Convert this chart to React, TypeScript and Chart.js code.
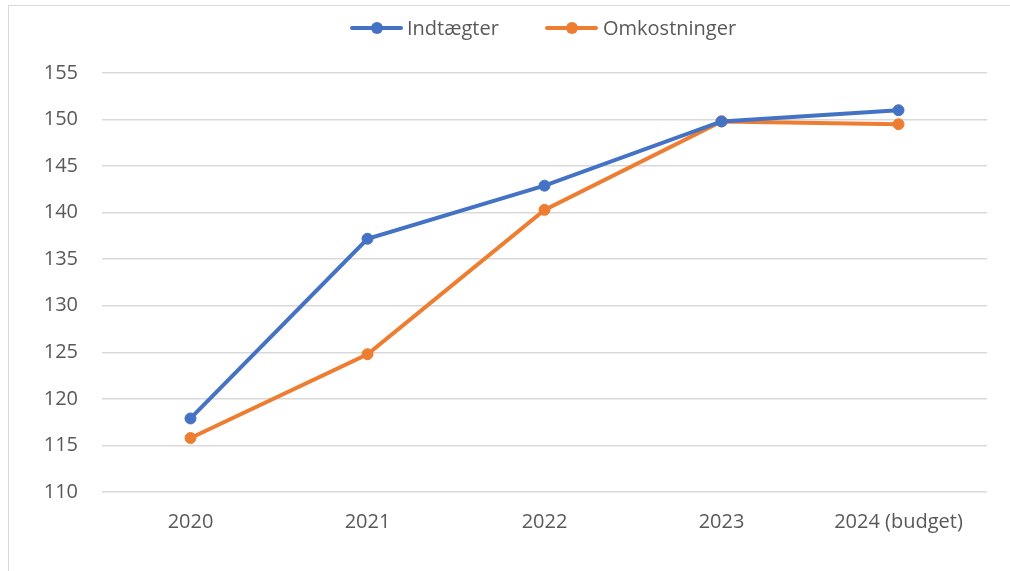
import React, { useEffect, useRef } from "react";
import { Chart, registerables } from "chart.js";

Chart.register(...registerables);

const categories = ["2020", "2021", "2022", "2023", "2024 (budget)"];
const indtaegter = [117.9, 137.2, 142.9, 149.8, 151.0];
const omkostninger = [115.8, 124.8, 140.3, 149.8, 149.5];
const seriesNames = ["Indtægter", "Omkostninger"];
const seriesColors = ["#4472C4", "#ED7D31"];
const yMin = 110;
const yMax = 155;
const yStep = 5;

const FONT = "'Open Sans', 'Noto Sans', sans-serif";
const TEXT = "#595959";

export default function App() {
  const ref = useRef<HTMLCanvasElement | null>(null);

  useEffect(() => {
    if (!ref.current) return;
    const values = [indtaegter, omkostninger];
    const chart = new Chart(ref.current, {
      type: "line",
      data: {
        labels: categories,
        datasets: seriesNames.map((name, i) => ({
          label: name,
          data: values[i],
          borderColor: seriesColors[i],
          backgroundColor: seriesColors[i],
          borderWidth: 4,
          pointRadius: 5.5,
          pointBorderWidth: 1,
          pointBackgroundColor: seriesColors[i],
          pointBorderColor: seriesColors[i],
          tension: 0,
          fill: false,
        })),
      },
      options: {
        animation: false,
        responsive: false,
        maintainAspectRatio: false,
        layout: { padding: { left: 0, right: 23, top: 73, bottom: 0 } },
        plugins: {
          legend: { display: false },
          tooltip: { enabled: false },
        },
        scales: {
          x: {
            offset: true,
            grid: { display: false, drawTicks: false },
            border: { display: false },
            ticks: {
              color: TEXT,
              font: { family: FONT, size: 20 },
              padding: 18,
              maxRotation: 0,
              autoSkip: false,
            },
            afterFit: (s: any) => {
              s.height = 79;
            },
          },
          y: {
            min: yMin,
            max: yMax,
            grid: { color: "#d9d9d9", lineWidth: 1.5, drawTicks: false },
            border: { display: false },
            ticks: {
              stepSize: yStep,
              color: TEXT,
              font: { family: FONT, size: 20 },
              padding: 24,
            },
            afterFit: (s: any) => {
              s.width = 102;
            },
          },
        },
      },
    });
    return () => chart.destroy();
  }, []);

  const legendItems = [
    { name: seriesNames[0], color: seriesColors[0], lineX: 350, textX: 407 },
    { name: seriesNames[1], color: seriesColors[1], lineX: 545, textX: 603 },
  ];

  return (
    <div
      style={{
        position: "fixed",
        left: 0,
        top: 0,
        width: 1010,
        height: 571,
        overflow: "hidden",
        background: "#ffffff",
      }}
    >
      <div
        style={{
          position: "absolute",
          left: 8,
          top: 5,
          width: 1100,
          height: 700,
          border: "1.5px solid #d9d9d9",
          boxSizing: "border-box",
        }}
      />
      <canvas
        ref={ref}
        width={1010}
        height={571}
        style={{ position: "absolute", left: 0, top: 0, width: 1010, height: 571 }}
      />
      {legendItems.map((it) => (
        <React.Fragment key={it.name}>
          <div
            style={{
              position: "absolute",
              left: it.lineX,
              top: 26,
              width: 53,
              height: 4,
              background: it.color,
              borderRadius: 2,
            }}
          />
          <div
            style={{
              position: "absolute",
              left: it.lineX + 21,
              top: 22,
              width: 12,
              height: 12,
              borderRadius: 6,
              background: it.color,
            }}
          />
          <div
            style={{
              position: "absolute",
              left: it.textX,
              top: 16,
              height: 24,
              lineHeight: "24px",
              fontFamily: FONT,
              fontSize: 20,
              color: TEXT,
              whiteSpace: "nowrap",
            }}
          >
            {it.name}
          </div>
        </React.Fragment>
      ))}
    </div>
  );
}
